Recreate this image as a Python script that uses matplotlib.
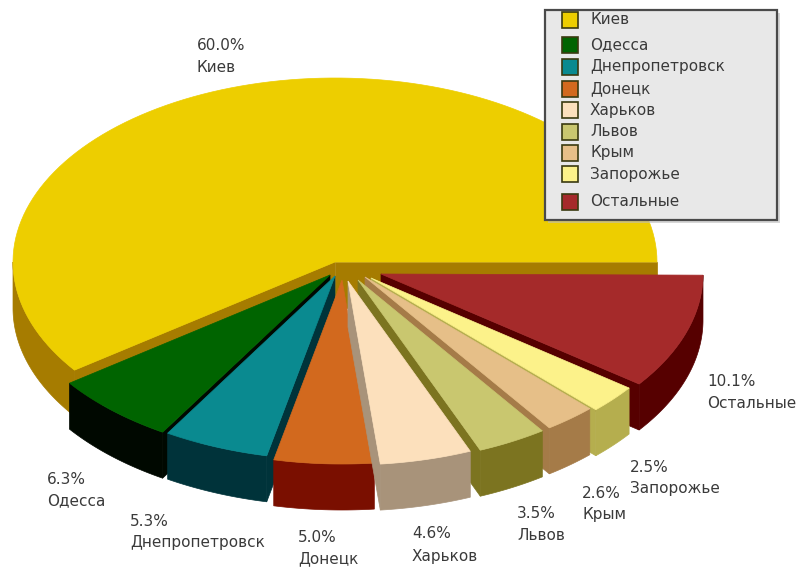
import numpy as np
import matplotlib
matplotlib.use('Agg')
import matplotlib.pyplot as plt
from matplotlib.patches import Polygon, Rectangle

# Data
regions = ['Киев', 'Одесса', 'Днепропетровск', 'Донецк', 'Харьков',
           'Львов', 'Крым', 'Запорожье', 'Остальные']
shares = [60.0, 6.3, 5.3, 5.0, 4.6, 3.5, 2.6, 2.5, 10.1]

# Styles
top_colors = ['#EDCE00', '#006400', '#0A8A90', '#D2691E', '#FCE0BC',
              '#C9C76F', '#E6BF88', '#FCF28A', '#A52A2A']
side_colors = ['#A67C00', '#000800', '#00333A', '#7A0F00', '#A8937A',
               '#7C7420', '#A57B48', '#B5AE4E', '#560000']
explode = [(0, 0), (-5, 13), (0, 14), (7, 18), (13, 19),
           (23, 18), (30, 15), (36, 16), (46, 12)]
label_pos = [(197, 45), (47, 479), (130, 521), (298, 537), (412, 534),
             (517, 514), (582, 493), (630, 467), (707, 382)]
legend_y = [20, 45, 67, 89, 110, 132, 153, 174, 202]

cx, cy = 335, 262
rx, ry = 322, 184
depth = 46
text_color = '#3a3a3a'
font = 'DejaVu Sans'
font_size = 11

fig = plt.figure(figsize=(7.99, 5.70), dpi=100)
ax = fig.add_axes([0, 0, 1, 1])
ax.set_xlim(0, 799)
ax.set_ylim(570, 0)
ax.axis('off')

# Slice boundaries in degrees, counter-clockwise from 3 o'clock
bounds = np.concatenate([[0], np.cumsum(shares) * 3.6])


def rim(a0, a1, ox, oy):
    t = np.radians(np.linspace(a0, a1, 120))
    return np.column_stack([cx + ox + rx * np.cos(t), cy + oy - ry * np.sin(t)])


def draw_slice(i):
    a0, a1 = bounds[i], bounds[i + 1]
    ox, oy = explode[i]
    apex = np.array([[cx + ox, cy + oy]])
    down = np.array([0, depth])

    # radial walls that face the viewer
    if i == 0:
        edges = [a0, a1]
    elif a1 <= 270:
        edges = [a1]
    elif a0 >= 270:
        edges = [a0]
    else:
        edges = []
    for a in edges:
        p = rim(a, a, ox, oy)[:1]
        ax.add_patch(Polygon(np.vstack([apex, p, p + down, apex + down]),
                             fc=side_colors[i], ec=side_colors[i], lw=0.5))

    # outer wall, front half only
    s0 = max(a0, 180)
    arc = rim(s0, a1, ox, oy)
    ax.add_patch(Polygon(np.vstack([arc, (arc + down)[::-1]]),
                         fc=side_colors[i], ec=side_colors[i], lw=0.5))

    # top face
    ax.add_patch(Polygon(np.vstack([apex, rim(a0, a1, ox, oy)]),
                         fc=top_colors[i], ec=top_colors[i], lw=0.5))


# back to front
for i in [0, 1, 2, 8, 7, 6, 5, 3, 4]:
    draw_slice(i)

# Data labels
for name, v, (x, y) in zip(regions, shares, label_pos):
    ax.text(x, y, f'{v:.1f}%', fontsize=font_size, color=text_color, family=font,
            ha='left', va='center')
    ax.text(x, y + 22, name, fontsize=font_size, color=text_color, family=font,
            ha='left', va='center')

# Legend box
ax.add_patch(Rectangle((548, 13), 232, 210, fc='#BDBDBD', ec='none', alpha=0.6))
ax.add_patch(Rectangle((545, 10), 232, 210, fc='#E8E8E8', ec='#4a4a4a', lw=1.6))
for name, col, y in zip(regions, top_colors, legend_y):
    ax.add_patch(Rectangle((562, y - 8), 16, 16, fc=col, ec='#3a3a10', lw=1.2))
    ax.text(590, y, name, fontsize=font_size, color=text_color, family=font,
            ha='left', va='center')

fig.savefig('out.png', dpi=100)
